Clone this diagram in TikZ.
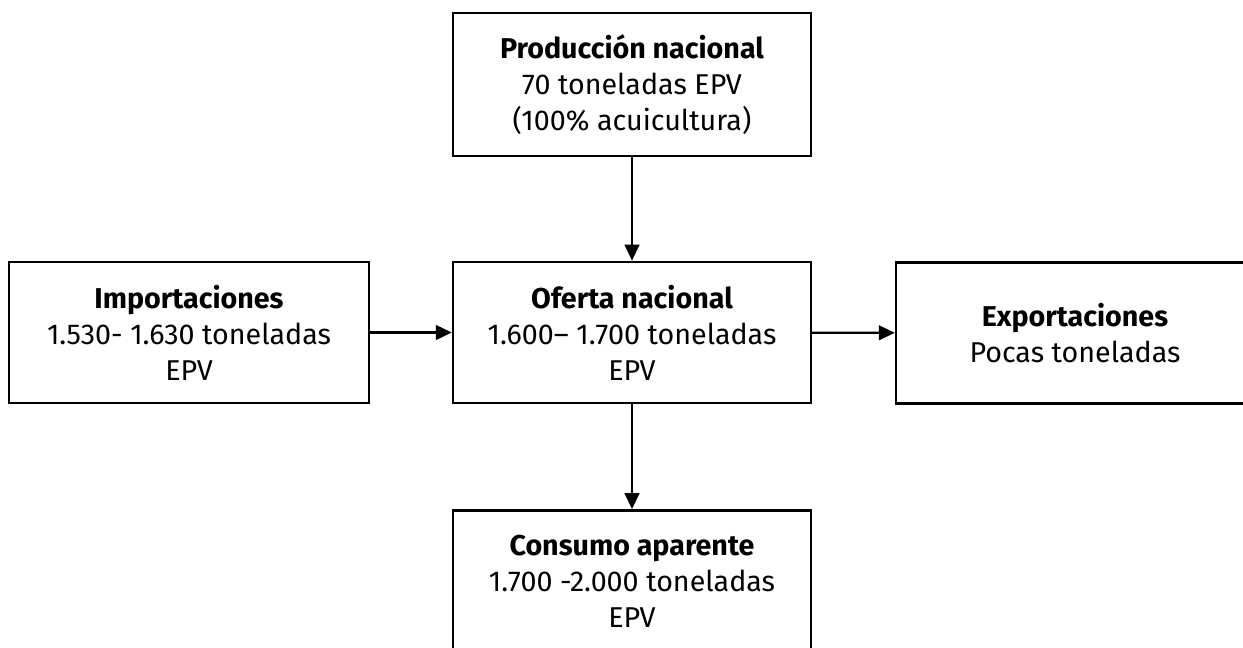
\documentclass[tikz,border=0pt]{standalone}
\usepackage{fontspec}
\setmainfont{Fira Sans}
\usetikzlibrary{arrows.meta}

\begin{document}
\begin{tikzpicture}[x=0.75pt,y=-0.75pt]
    \useasboundingbox (0,0) rectangle (1243,647);
    \begin{scope}[line width=1.8pt,font=\fontsize{21.5}{27}\selectfont,
        flowbox/.style={draw,rectangle,align=center,inner sep=0pt,
            minimum width=268.5pt,minimum height=106pt},
        flowarrow/.style={-{Triangle[length=12pt,width=11pt]}}]
    % Boxes:
    % Nodes are placed at pixel coordinates of the original layout:
    \node [flowbox,minimum height=107pt] (prod) at (632,84.5)
        {\textbf{Producción nacional}\\70 toneladas EPV\\(100\% acuicultura)};
    \node [flowbox,minimum width=270pt] (imp) at (189,332.5)
        {\textbf{Importaciones}\\1.530- 1.630 toneladas\\EPV};
    \node [flowbox] (ofer) at (632,332.5)
        {\textbf{Oferta nacional}\\1.600– 1.700 toneladas\\EPV};
    \node [flowbox] (exp) at (1075,333)
        {\textbf{Exportaciones}\\Pocas toneladas};
    \node [flowbox] (cons) at (632,581)
        {\textbf{Consumo aparente}\\1.700 -2.000 toneladas\\EPV};

    % Arrows:
    \draw [flowarrow] (prod) -- (ofer);
    \draw [flowarrow] (imp) -- (ofer);
    \draw [flowarrow] (ofer) -- (exp);
    \draw [flowarrow] (ofer) -- (cons);
    \end{scope}
\end{tikzpicture}
\end{document}
